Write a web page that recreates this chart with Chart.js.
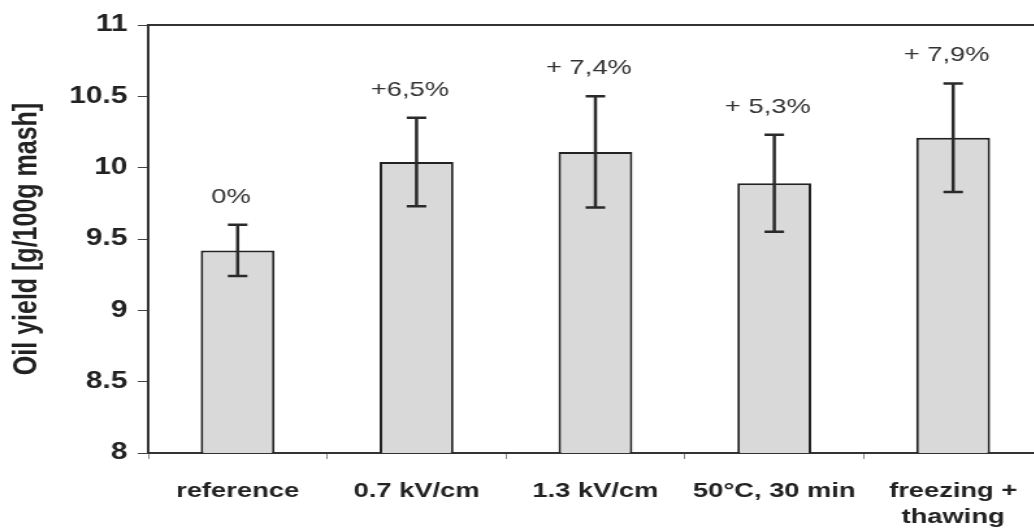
<!DOCTYPE html>
<html>
<head>
<meta charset="utf-8">
<script src="https://cdn.jsdelivr.net/npm/chart.js@4"></script>
<style>
    html, body { margin: 0; padding: 0; overflow: hidden; background: #fff; }
    /* the original picture is stretched sideways, so the whole canvas is too */
    #wrap { width: 820px; height: 529px; transform: scaleX(1.3); transform-origin: 0 0; }
</style>
</head>
<body>
<div id="wrap"><canvas id="oilChart"></canvas></div>
<script>
const categories = ['reference', '0.7 kV/cm', '1.3 kV/cm', '50°C, 30 min', ['freezing +', 'thawing']];
const oilYield = [9.42, 10.04, 10.11, 9.89, 10.21];
const stdDev = [0.18, 0.31, 0.39, 0.34, 0.38];
const changeLabels = ['0%', '+6,5%', '+ 7,4%', '+ 5,3%', '+ 7,9%'];
const yTicks = [8, 8.5, 9, 9.5, 10, 10.5, 11];
const yTickLabels = ['8', '8.5', '9', '9.5', '10', '10.5', '11'];

Chart.defaults.font.family = "'Liberation Sans', Arial, sans-serif";

// frame round the plot area
const frame = {
    id: 'frame',
    beforeDatasetsDraw(chart) {
        const { ctx, chartArea: a } = chart;
        ctx.save();
        ctx.strokeStyle = '#333';
        ctx.lineWidth = 2;
        ctx.strokeRect(a.left, a.top, a.right - a.left, a.bottom - a.top);
        ctx.restore();
    }
};

// error bars and the % change above them
const errorBars = {
    id: 'errorBars',
    afterDatasetsDraw(chart) {
        const { ctx } = chart;
        const y = chart.scales.y;
        const bars = chart.getDatasetMeta(0).data;
        ctx.save();
        ctx.strokeStyle = '#2a2a2a';
        ctx.lineWidth = 2.5;
        bars.forEach((bar, i) => {
            const top = y.getPixelForValue(oilYield[i] + stdDev[i]);
            const bottom = y.getPixelForValue(oilYield[i] - stdDev[i]);
            ctx.beginPath();
            ctx.moveTo(bar.x, top);
            ctx.lineTo(bar.x, bottom);
            ctx.moveTo(bar.x - 7.5, top);
            ctx.lineTo(bar.x + 7.5, top);
            ctx.moveTo(bar.x - 7.5, bottom);
            ctx.lineTo(bar.x + 7.5, bottom);
            ctx.stroke();

            ctx.fillStyle = '#333';
            ctx.font = "21px 'Liberation Sans', Arial, sans-serif";
            ctx.textAlign = 'center';
            ctx.textBaseline = 'middle';
            ctx.fillText(changeLabels[i], bar.x - 5, top - 28);
        });
        ctx.restore();
    }
};

const ctx = document.getElementById('oilChart').getContext('2d');
new Chart(ctx, {
    type: 'bar',
    data: {
        labels: categories,
        datasets: [{
            data: oilYield,
            backgroundColor: '#d9d9d9',
            borderColor: '#222',
            borderWidth: 2,
            borderSkipped: false,
            categoryPercentage: 1,
            barPercentage: 0.413
        }]
    },
    options: {
        responsive: true,
        maintainAspectRatio: false,
        animation: false,
        layout: { padding: { top: 25, right: 18, left: 0, bottom: 0 } },
        plugins: {
            legend: { display: false },
            tooltip: { enabled: false }
        },
        scales: {
            x: {
                border: { display: false },
                grid: { drawOnChartArea: false, tickLength: 6, color: '#888', offset: true },
                ticks: {
                    color: '#222',
                    padding: 19,
                    maxRotation: 0,
                    autoSkip: false,
                    font: { size: 21, weight: 'bold', lineHeight: 1.25 }
                },
                afterFit(scale) { scale.height = 76; }
            },
            y: {
                min: 8,
                max: 11,
                border: { display: false },
                grid: { drawOnChartArea: false, tickLength: 8, color: '#444' },
                afterBuildTicks(scale) { scale.ticks = yTicks.map(v => ({ value: v })); },
                ticks: {
                    color: '#222',
                    padding: 8,
                    font: { size: 23, weight: 'bold' },
                    callback: (value, i) => yTickLabels[i]
                },
                title: {
                    display: true,
                    text: 'Oil yield [g/100g mash]',
                    color: '#222',
                    padding: { top: 6, bottom: 0 },
                    font: { size: 25, weight: 'bold' }
                },
                afterFit(scale) { scale.width = 114; }
            }
        }
    },
    plugins: [frame, errorBars]
});
</script>
</body>
</html>
